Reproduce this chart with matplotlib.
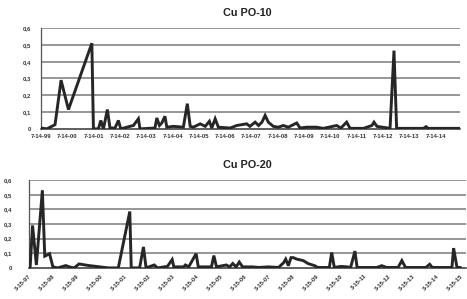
import matplotlib
matplotlib.use("Agg")
import matplotlib.pyplot as plt

# ---- Data: Cu PO-10 (x in years since first label) ----
top_labels = ["7-14-99", "7-14-00", "7-14-01", "7-14-02", "7-14-03", "7-14-04",
              "7-14-05", "7-14-06", "7-14-07", "7-14-08", "7-14-09", "7-14-10",
              "7-14-11", "7-14-12", "7-14-13", "7-14-14"]
top_t = [0.0, 0.22, 0.53, 0.76, 1.04, 1.93, 1.99, 2.18, 2.27, 2.37, 2.52, 2.62,
         2.81, 2.94, 3.03, 3.38, 3.51, 3.70, 3.76, 4.33, 4.40, 4.50, 4.59, 4.71,
         4.78, 5.03, 5.41, 5.56, 5.67, 5.79, 6.05, 6.24, 6.40, 6.49, 6.62, 6.74,
         7.19, 7.44, 7.63, 7.82, 7.94, 8.14, 8.27, 8.40, 8.52, 8.64, 8.83, 9.02,
         9.21, 9.40, 9.72, 9.85, 10.10, 10.48, 10.73, 11.24, 11.40, 11.62, 11.75,
         12.26, 12.58, 12.66, 12.77, 13.27, 13.42, 13.52, 14.54, 14.64, 14.72, 15.93]
top_v = [0.005, 0.0, 0.025, 0.29, 0.115, 0.51, 0.0, 0.0, 0.05, 0.0, 0.115, 0.005,
         0.005, 0.05, 0.0, 0.015, 0.02, 0.06, 0.0, 0.005, 0.065, 0.02, 0.035, 0.075,
         0.01, 0.015, 0.01, 0.15, 0.015, 0.01, 0.03, 0.015, 0.045, 0.005, 0.06, 0.01,
         0.005, 0.02, 0.025, 0.03, 0.015, 0.04, 0.02, 0.04, 0.08, 0.04, 0.015, 0.01,
         0.02, 0.01, 0.035, 0.005, 0.01, 0.01, 0.003, 0.02, 0.005, 0.04, 0.003,
         0.003, 0.02, 0.04, 0.015, 0.003, 0.466, 0.003, 0.003, 0.013, 0.003, 0.003]

# ---- Data: Cu PO-20 ----
bot_labels = ["3-15-97", "3-15-98", "3-15-99", "3-15-00", "3-15-01", "3-15-02",
              "3-15-03", "3-15-04", "3-15-05", "3-15-06", "3-15-07", "3-15-08",
              "3-15-09", "3-15-10", "3-15-11", "3-15-12", "3-15-13", "3-15-14",
              "3-15-15"]
bot_t = [0.0, 0.05, 0.15, 0.31, 0.56, 0.66, 0.72, 0.86, 1.0, 1.2, 1.54, 1.68,
         1.89, 2.09, 2.5, 3.32, 3.73, 4.21, 4.27, 4.62, 4.78, 4.89, 5.23, 5.37,
         5.64, 5.78, 5.98, 6.05, 6.46, 6.53, 6.67, 6.80, 6.98, 7.07, 7.62, 7.72,
         7.83, 8.24, 8.38, 8.51, 8.65, 8.78, 8.92, 9.33, 9.6, 10.0, 10.42, 10.63,
         10.72, 10.83, 10.94, 11.04, 11.18, 11.45, 11.65, 11.93, 12.06, 12.54,
         12.64, 12.75, 13.02, 13.29, 13.43, 13.61, 13.70, 14.52, 14.73, 14.93,
         15.41, 15.57, 15.72, 16.57, 16.73, 16.84, 17.66, 17.73, 17.87, 18.0]
bot_v = [0.007, 0.007, 0.29, 0.02, 0.53, 0.08, 0.085, 0.097, 0.007, 0.0, 0.016,
         0.007, 0.0, 0.027, 0.016, 0.0, 0.0, 0.385, 0.0, 0.0, 0.143, 0.0, 0.02,
         0.0, 0.007, 0.01, 0.057, 0.007, 0.007, 0.02, 0.007, 0.045, 0.097, 0.007,
         0.007, 0.084, 0.007, 0.02, 0.007, 0.03, 0.007, 0.04, 0.007, 0.007, 0.003,
         0.007, 0.003, 0.035, 0.06, 0.015, 0.07, 0.07, 0.06, 0.05, 0.03, 0.015,
         0.003, 0.003, 0.105, 0.003, 0.01, 0.007, 0.003, 0.115, 0.003, 0.003,
         0.015, 0.003, 0.003, 0.05, 0.003, 0.003, 0.025, 0.003, 0.003, 0.135,
         0.003, 0.003]

y_ticks = [0, 0.1, 0.2, 0.3, 0.4, 0.5, 0.6]
y_tick_labels = ["0", "0,1", "0,2", "0,3", "0,4", "0,5", "0,6"]

plt.rcParams['font.family'] = ['Liberation Sans', 'DejaVu Sans']

fig = plt.figure(figsize=(4.67, 2.99), dpi=100)
fig.patch.set_facecolor("white")

line_color = "#262626"
grid_color = "#7a7a7a"


def style_axes(ax, labels, xmax, rot, ypad):
    ax.set_ylim(0, 0.6)
    ax.set_xlim(0, xmax)
    ax.set_yticks(y_ticks)
    ax.set_yticklabels(y_tick_labels, fontsize=4.2, fontweight="bold", color="#333333")
    ax.set_xticks(range(len(labels)))
    if rot:
        ax.set_xticklabels(labels, fontsize=4.2, fontweight="bold", color="#333333",
                           rotation=45, ha="right", rotation_mode="anchor")
    else:
        ax.set_xticklabels(labels, fontsize=4.2, fontweight="bold", color="#333333")
    ax.tick_params(axis="both", length=0)
    ax.tick_params(axis="y", pad=ypad)
    ax.tick_params(axis="x", pad=4)
    for s in ["top", "right"]:
        ax.spines[s].set_visible(False)
    ax.spines["left"].set_color("#555555")
    ax.spines["left"].set_linewidth(0.9)
    ax.spines["bottom"].set_color("#333333")
    ax.spines["bottom"].set_linewidth(1.1)
    for y in y_ticks[1:]:
        ax.axhline(y, color=grid_color, linewidth=1.1, zorder=1)
    ax.set_facecolor("white")


ax1 = fig.add_axes([0.088, 0.569, 0.897, 0.337])
ax1.plot(top_t, top_v, color=line_color, linewidth=2.1, zorder=3, solid_joinstyle="miter")
style_axes(ax1, top_labels, 15.93, False, 7)

ax2 = fig.add_axes([0.062, 0.104, 0.936, 0.294])
ax2.plot(bot_t, bot_v, color=line_color, linewidth=2.1, zorder=3, solid_joinstyle="miter")
style_axes(ax2, bot_labels, 18.25, True, 12)

fig.text(0.53, 0.958, "Cu PO-10", ha="center", va="center", fontsize=7.8,
         fontweight="bold", color="#222222")
fig.text(0.53, 0.448, "Cu PO-20", ha="center", va="center", fontsize=7.8,
         fontweight="bold", color="#222222")

fig.savefig("out.png", dpi=100, facecolor="white")
